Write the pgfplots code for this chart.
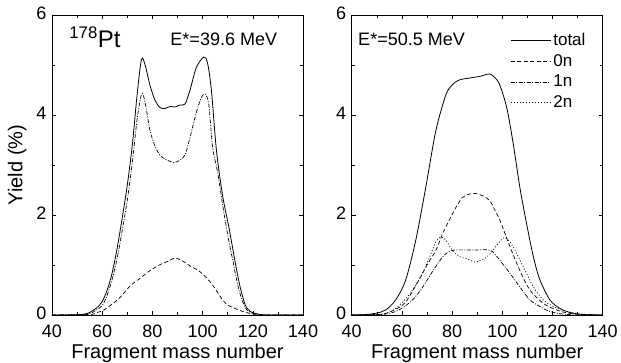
\documentclass[border=0pt]{standalone}
\usepackage{fontspec}
\setmainfont{Liberation Sans}
\usepackage{pgfplots}
\pgfplotsset{compat=1.18}
\pgfplotsset{
  panel/.style={
    scale only axis, width=251pt, height=300pt,
    xmin=40, xmax=140, ymin=0, ymax=6,
    xtick={40,60,...,140}, ytick={0,2,4,6},
    minor x tick num=1, minor y tick num=1,
    tick align=inside, xtick pos=both, ytick pos=both,
    major tick length=4pt, minor tick length=3pt,
    every tick/.style={black, line width=0.6pt},
    axis line style={black, line width=0.8pt},
    /pgf/number format/assume math mode=true,
    tick label style={font=\fontsize{18}{18}\selectfont},
    xticklabel style={yshift=-6pt},
    yticklabel style={xshift=-2pt, yshift=2pt},
    label style={font=\fontsize{20}{20}\selectfont},
    xlabel style={at={(axis description cs:0.5,-0.145)}, anchor=base},
    ylabel style={at={(axis description cs:-0.139,0.5)}, anchor=center},
  },
  tot/.style={black, line width=0.8pt, smooth},
  zn/.style={black, line width=0.7pt, smooth, dash pattern=on 4pt off 2.5pt},
  on/.style={black, line width=0.7pt, smooth, dash pattern=on 4pt off 1.5pt on 1pt off 1.5pt},
  tn/.style={black, line width=0.7pt, smooth, dash pattern=on 1pt off 2pt},
}
\begin{document}
\begin{tikzpicture}[x=1pt,y=1pt]
\useasboundingbox (0,0) rectangle (621,362);
\begin{axis}[panel, at={(52pt,47pt)}, anchor=south west,
  xlabel={Fragment mass number}, ylabel={Yield (\%)}]
\addplot[tot] coordinates {
(40,0) (50,0) (54,0.03) (56,0.08) (58,0.15) (60,0.27) (62,0.5) (64,0.85)
(66,1.35) (68,1.95) (70,2.6) (72,3.4) (74,4.45) (75.7,5.12) (77.2,4.98) (79,4.6)
(81,4.3) (83,4.15) (85,4.13) (87,4.17) (89,4.16) (91,4.2) (93,4.22) (95,4.5)
(97.5,4.95) (100.5,5.16) (102,5.03) (103.5,4.5) (105.5,3.3) (108,2.38)
(110.5,1.75) (113,1.05) (115,0.55) (117,0.2) (119,0.07) (122,0.02) (126,0) (140,0)};
\addplot[zn] coordinates {
(40,0) (55,0.01) (58,0.05) (60,0.08) (63,0.18) (66,0.3) (68,0.4) (70,0.52)
(72,0.62) (75,0.73) (78,0.85) (81,0.95) (84,1.03) (86.5,1.08) (89,1.14)
(92,1.08) (95,0.98) (98,0.9) (100,0.82) (102,0.72) (104,0.6) (106,0.45)
(108,0.3) (110,0.2) (113,0.13) (116,0.07) (119,0.03) (122,0.01) (125,0) (140,0)};
\addplot[on] coordinates {
(40,0) (54,0.02) (57,0.08) (60,0.19) (62,0.4) (64,0.72) (66,1.15) (68,1.7)
(70,2.3) (72,3.05) (74,3.95) (75.8,4.43) (77.2,4.22) (79,3.7) (81,3.38) (83,3.2)
(85,3.12) (88.5,3.05) (91,3.1) (93,3.2) (95,3.55) (97.5,4.05) (99.5,4.35)
(101,4.42) (102.5,4.2) (104,3.35) (106,2.85) (108,2.2) (110,1.6) (112,1.1)
(114,0.6) (116,0.26) (118,0.08) (121,0.02) (125,0) (140,0)};
\node[anchor=base west, font=\fontsize{24}{24}\selectfont] at (rel axis cs:0.055,0.89) {\textsuperscript{178}Pt};
\node[anchor=base west, font=\fontsize{18}{18}\selectfont] at (rel axis cs:0.458,0.9) {E*=39.6 MeV};
\end{axis}
\begin{axis}[panel, at={(351.7pt,47pt)}, anchor=south west,
  xlabel={Fragment mass number},
  legend cell align=left,
  legend image code/.code={\draw[#1] (0pt,0pt) -- (40pt,0pt);},
  legend style={at={(axis description cs:0.632,0.947)}, anchor=north west,
    draw=none, fill=none, inner sep=0pt, row sep=3.5pt,
    font=\fontsize{17}{17}\selectfont, nodes={inner sep=2pt}}]
\addplot[tot] coordinates {
(40,0) (46,0.01) (50,0.04) (53.5,0.1) (57.5,0.3) (61.5,0.7) (65.5,1.49)
(69.5,2.55) (73.5,3.68) (77.5,4.4) (80,4.6) (82.8,4.7) (87,4.74) (90.8,4.77)
(93,4.8) (95,4.82) (97,4.75) (99,4.6) (101.8,4.14) (104.4,3.41) (107,2.55)
(109.7,1.82) (112.4,1.16) (115,0.7) (119,0.3) (123,0.13) (127,0.05) (132,0.01) (140,0)};
\addlegendentry{total}
\addplot[zn] coordinates {
(40,0) (50,0.01) (53.5,0.03) (57,0.1) (61.5,0.26) (66.8,0.7) (70,1.0)
(73.5,1.29) (76,1.6) (78.8,1.89) (81.5,2.15) (84.1,2.35) (87,2.42) (89.5,2.43)
(92.4,2.38) (95.1,2.28) (97,2.1) (99.1,1.89) (103.1,1.36) (107,0.89) (111,0.5)
(116.4,0.23) (121.7,0.1) (126,0.04) (132,0.01) (140,0)};
\addlegendentry{0n}
\addplot[on] coordinates {
(40,0) (52,0.01) (57.5,0.07) (61,0.17) (64.2,0.3) (67.5,0.5) (70.8,0.76)
(73.5,0.97) (76.2,1.16) (78.5,1.26) (81,1.3) (88,1.3) (95,1.3) (97,1.22)
(99.1,1.09) (101,0.97) (103.1,0.83) (107,0.56) (111,0.3) (115,0.17) (119,0.07)
(124,0.02) (130,0) (140,0)};
\addlegendentry{1n}
\addplot[tn] coordinates {
(40,0) (51,0.01) (56.2,0.09) (59.5,0.22) (62.8,0.4) (65.5,0.6) (68.1,0.83)
(71,1.15) (73.5,1.46) (75.5,1.56) (77.5,1.5) (80.1,1.29) (83,1.17) (85.5,1.13)
(89,1.06) (91.1,1.09) (93,1.13) (95.1,1.22) (97.7,1.39) (100.4,1.54) (102,1.52)
(104.4,1.36) (106.5,1.15) (108.4,0.96) (112.4,0.56) (116.4,0.3) (120.3,0.17)
(124.3,0.09) (130,0.03) (135,0.01) (140,0)};
\addlegendentry{2n}
\node[anchor=base west, font=\fontsize{18}{18}\selectfont] at (rel axis cs:0.012,0.9) {E*=50.5 MeV};
\end{axis}
\end{tikzpicture}
\end{document}
